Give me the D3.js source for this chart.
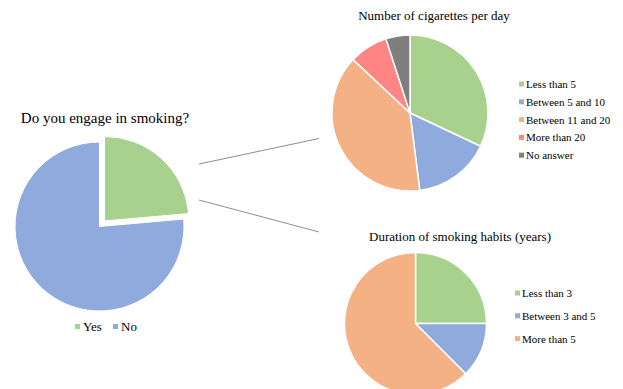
<!DOCTYPE html>
<html>
<head>
<meta charset="utf-8">
<script src="https://cdn.jsdelivr.net/npm/d3@7/dist/d3.min.js"></script>
<style>
  html, body { margin: 0; padding: 0; background: #fff; }
  svg { display: block; }
  text { font-family: "Liberation Serif", "Times New Roman", serif; fill: #000; }
</style>
</head>
<body>
<svg id="chart" width="623" height="389"></svg>
<script>
// Survey answers (percent of respondents)
const smokingLabels = ["Yes", "No"];
const smokingValues = [23.6, 76.4];

const cigaretteLabels = ["Less than 5", "Between 5 and 10", "Between 11 and 20", "More than 20", "No answer"];
const cigaretteValues = [32, 16, 39, 8, 5];

const durationLabels = ["Less than 3", "Between 3 and 5", "More than 5"];
const durationValues = [25, 12.5, 62.5];

const palette = ["#A9D18E", "#8FAADC", "#F4B183", "#FF8585", "#7F7F7F"];

const svg = d3.select("#chart");
const pie = d3.pie().sort(null).value(d => d);

function drawPie(values, cx, cy, r, explodeIndex, explodeBy, strokeW) {
  const arcs = pie(values);
  const arc = d3.arc().innerRadius(0).outerRadius(r);
  const g = svg.append("g").attr("transform", `translate(${cx},${cy})`);
  g.selectAll("path")
    .data(arcs)
    .join("path")
    .attr("d", arc)
    .attr("fill", (d, i) => palette[i])
    .attr("stroke", "#fff")
    .attr("stroke-width", strokeW)
    .attr("stroke-linejoin", "round")
    .attr("transform", (d, i) => {
      if (i !== explodeIndex) return null;
      const mid = (d.startAngle + d.endAngle) / 2;
      return `translate(${Math.sin(mid) * explodeBy},${-Math.cos(mid) * explodeBy})`;
    });
  return g;
}

// connector lines from the main pie to the two breakdowns
const connectors = [
  [[199, 164], [319, 138.5]],
  [[199, 200], [319, 232]]
];
svg.selectAll("line.conn")
  .data(connectors)
  .join("line")
  .attr("class", "conn")
  .attr("x1", d => d[0][0]).attr("y1", d => d[0][1])
  .attr("x2", d => d[1][0]).attr("y2", d => d[1][1])
  .attr("stroke", "#8c8c8c")
  .attr("stroke-width", 1);

// main pie
svg.append("text").attr("x", 105).attr("y", 123).attr("text-anchor", "middle")
  .style("font-size", "15px").text("Do you engage in smoking?");
drawPie(smokingValues, 99.5, 226.5, 84.5, 0, 7.5, 1);

const mainLegendX = [75, 113];
const mainLegend = svg.append("g");
smokingLabels.forEach((lab, i) => {
  mainLegend.append("rect").attr("x", mainLegendX[i]).attr("y", 324).attr("width", 5).attr("height", 5)
    .attr("fill", palette[i]);
  mainLegend.append("text").attr("x", mainLegendX[i] + 8).attr("y", 331)
    .style("font-size", "13px").text(lab);
});

// cigarettes per day
svg.append("text").attr("x", 434).attr("y", 20).attr("text-anchor", "middle")
  .style("font-size", "13px").text("Number of cigarettes per day");
drawPie(cigaretteValues, 410, 113, 78, -1, 0, 1.5);

cigaretteLabels.forEach((lab, i) => {
  const y = 84 + i * 17.8;
  svg.append("rect").attr("x", 519).attr("y", y - 2.5).attr("width", 5).attr("height", 5).attr("fill", palette[i]);
  svg.append("text").attr("x", 526).attr("y", y + 4).style("font-size", "11px").text(lab);
});

// duration of smoking habits
svg.append("text").attr("x", 460).attr("y", 241).attr("text-anchor", "middle")
  .style("font-size", "13px").text("Duration of smoking habits (years)");
drawPie(durationValues, 415.5, 323.5, 71, -1, 0, 1.5);

durationLabels.forEach((lab, i) => {
  const y = 293 + i * 22.8;
  svg.append("rect").attr("x", 515).attr("y", y - 2.5).attr("width", 5).attr("height", 5).attr("fill", palette[i]);
  svg.append("text").attr("x", 522).attr("y", y + 4).style("font-size", "11px").text(lab);
});
</script>
</body>
</html>
